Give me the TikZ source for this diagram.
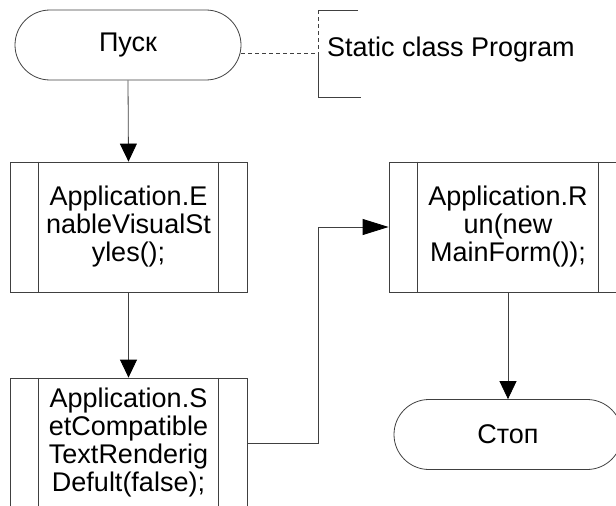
\documentclass[tikz,border=0pt]{standalone}
\usepackage{fontspec}
\setmainfont{Liberation Sans}
\usetikzlibrary{arrows.meta,calc}

\tikzset{
  line/.style={draw=black!75, line width=0.8pt},
  txt/.style={font=\fontsize{27}{28}\selectfont},
  terminal/.style={line, txt, rectangle, rounded corners=35pt, minimum height=70pt,
    inner sep=0pt},
  procbox/.style={line, txt, rectangle, minimum width=237pt, minimum height=130pt,
    inner sep=0pt, align=center},
  notetext/.style={txt, inner sep=0pt},
  varrow/.style={line, -{Triangle[length=18pt,width=17pt,black]}},
  harrow/.style={line, -{Triangle[length=26pt,width=16pt,black]}},
  dashline/.style={line, dash pattern=on 4pt off 3pt}
}

\begin{document}
\begin{tikzpicture}[x=1pt,y=-1pt]
  \useasboundingbox (0,0) rectangle (616,506);

  % terminals
  \node[terminal, minimum width=226pt] (start) at (128,45) {Пуск};
  \node[terminal, minimum width=228pt] (stop) at (508,434.5) {Стоп};

  % predefined processes
  \node[procbox] (b1) at (128.5,227) {Application.E\\nableVisualSt\\yles();};
  \node[procbox] (b3) at (128.5,443) {Application.S\\etCompatible\\TextRenderig\\Defult(false);};
  \node[procbox, minimum width=238pt] (b2) at (508,227) {Application.R\\un(new\\MainForm());};

  % inner side bars of the process boxes
  \foreach \n in {b1,b2,b3}{
    \draw[line] ($(\n.north west)+(29,0)$) -- ($(\n.south west)+(29,0)$);
    \draw[line] ($(\n.north east)+(-29,0)$) -- ($(\n.south east)+(-29,0)$);
  }

  % annotation bracket
  \coordinate (bt) at (318,10);
  \coordinate (bm) at (318,53);
  \coordinate (bb) at (318,97);
  \coordinate (btr) at (358,10);
  \coordinate (bbr) at (361,97);
  \draw[line] (btr) -- (bt);
  \draw[dashline] (bt) -- (bm);
  \draw[line] (bm) -- (bb) -- (bbr);
  \node[notetext, anchor=west] (note) at (327,50) {Static class Program};
  \draw[dashline] (start.east |- bm) -- (bm);

  % flow connectors
  \draw[varrow] (start.south) -- (b1.north);
  \draw[varrow] (b1.south) -- (b3.north);
  \coordinate (bend) at (318,443);
  \draw[harrow] (b3.east) -- (bend) |- (b2.west);
  \draw[varrow] (b2.south) -- (stop.north);
\end{tikzpicture}
\end{document}
